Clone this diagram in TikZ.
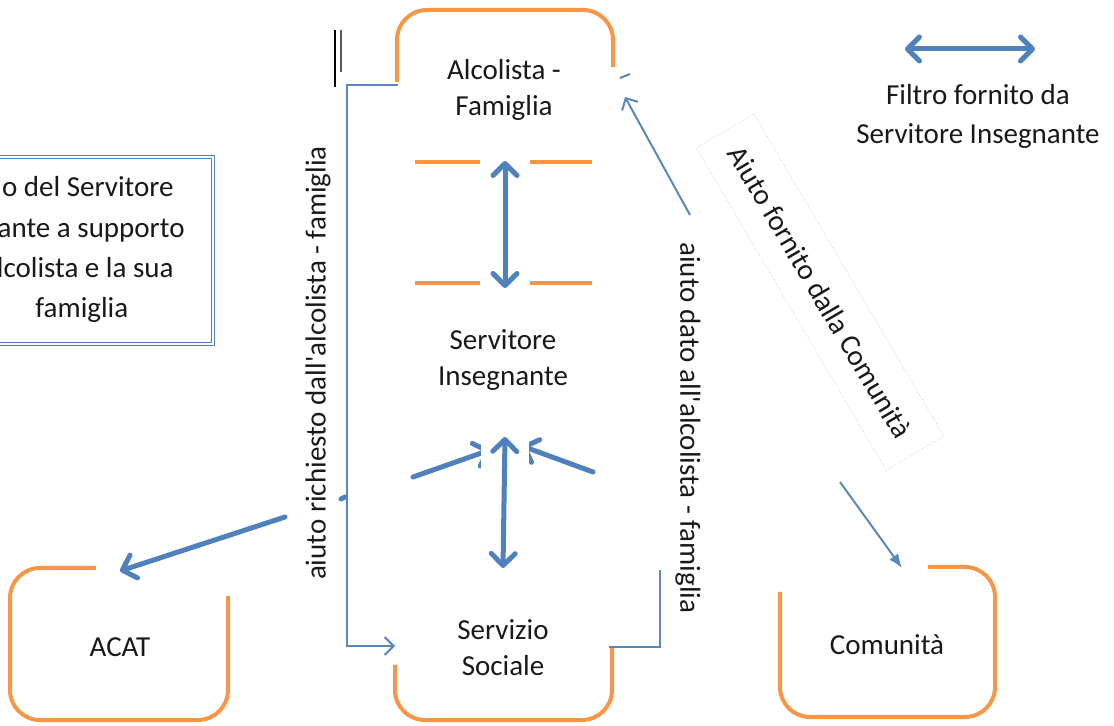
\documentclass[tikz,border=0pt]{standalone}
\usepackage{fontspec}
\setmainfont{Carlito}[Ligatures=TeXOff]
\usetikzlibrary{arrows.meta}
\definecolor{orng}{HTML}{F79646}
\definecolor{blu}{HTML}{4F81BD}
\definecolor{tblu}{HTML}{5A87C0}
\tikzset{
  BB/.tip={Straight Barb[length=6pt,width=12pt,round]},
  SB/.tip={Straight Barb[length=4.5pt,width=9pt]},
  FT/.tip={Latex[length=7pt,width=5.5pt]}
}
\begin{document}
\begin{tikzpicture}[x=0.5pt,y=-0.5pt,
  lbl/.style={font=\fontsize{14.5}{18}\selectfont, inner sep=0pt, align=center, text=black!90},
  obox/.style={draw=orng, line width=2pt, rounded corners=15pt},
  oseg/.style={draw=orng, line width=2pt},
  thk/.style={draw=blu, line width=2.5pt, line cap=round},
  thn/.style={draw=tblu, line width=1pt},
  frame/.style={draw=blu, line width=0.5pt}
]
\useasboundingbox (0,0) rectangle (1114,726);

% orange boxes (visible parts)
\draw[obox] (397,82) -- (397,10) -- (613,10) -- (613,67);
\draw[oseg] (415,162) -- (480,162) (530,162) -- (592,162);
\draw[oseg] (415,283) -- (480,283) (530,283) -- (592,283);
\draw[obox] (395,665) -- (395,720) -- (612,720) -- (612,647);
\draw[obox] (96,568) -- (10,568) -- (10,720) -- (228,720) -- (228,596);
\draw[obox] (780,592) -- (780,717) -- (995,717) -- (995,567) -- (928,567);

% black marks top left
\draw[black, line width=0.6pt] (335,30) -- (335,87);
\draw[black!65, line width=0.6pt] (341,30) -- (341,72);

% left text frame
\draw[frame] (-5,156) rectangle (214,346);
\draw[frame] (-5,159) rectangle (211,343);

% text nodes
\node[lbl] (alc) at (504,90) {Alcolista -\\Famiglia};
\node[lbl] (si) at (503,360) {Servitore\\Insegnante};
\node[lbl] (ss) at (503,648) {Servizio\\Sociale};
\node[lbl] (acat) at (120,647) {ACAT};
\node[lbl] (com) at (887,645) {Comunità};
\node[lbl, font=\fontsize{14.5}{19.5}\selectfont] (filt) at (978,116) {Filtro fornito da\\Servitore Insegnante};
\node[lbl, anchor=base east] (l1) at (174,197) {o del Servitore};
\node[lbl, anchor=base east] (l2) at (185,238) {ante a supporto};
\node[lbl, anchor=base east] (l3) at (174,278) {lcolista e la sua};
\node[lbl, anchor=base west] (l4) at (35,318) {famiglia};
\node[lbl, rotate=90] (vl) at (318,363) {aiuto richiesto dall'alcolista - famiglia};
\node[lbl, rotate=-90] (vr) at (688,428) {aiuto dato all'alcolista - famiglia};
\node[lbl, rotate=-59.5, draw=gray!40, densely dotted, line width=0.4pt, minimum width=187pt, minimum height=33.5pt] (afc) at (820,292) {Aiuto fornito dalla Comunità};

% connector coordinates
\coordinate (pa) at (398,85);
\coordinate (pb) at (347,85);
\coordinate (pc) at (347,646);
\coordinate (pd) at (395,646);
\coordinate (qa) at (609,647);
\coordinate (qb) at (660,647);
\coordinate (qc) at (660,570);
\coordinate (qd) at (690,215);
\coordinate (qe) at (625,97);
\coordinate (ca) at (840,482);
\coordinate (cb) at (902,568);
\coordinate (v1a) at (505,161);
\coordinate (v1b) at (505,288);
\coordinate (v2a) at (505,437);
\coordinate (v2b) at (503,568);
\coordinate (aa) at (120,571);
\coordinate (ab) at (285,517);
\coordinate (ac) at (341,499);
\coordinate (ad) at (345,497);
\coordinate (ae) at (413,477);
\coordinate (af) at (490,450);
\coordinate (ra) at (522,446);
\coordinate (rb) at (593,472);
\coordinate (ga) at (905,49);
\coordinate (gb) at (1035,49);
\coordinate (ta) at (620,78);
\coordinate (tb) at (630,74);

% thin connectors
\draw[thn, -SB] (pa) -- (pb) -- (pc) -- (pd);
\draw[thn] (qa) -- (qb) -- (qc);
\draw[thn, -SB] (qd) -- (qe);
\draw[thn] (ta) -- (tb);
\draw[thn, -FT] (ca) -- (cb);

% thick connectors
\draw[thk, BB-] (aa) -- (ab);
\draw[thk] (ac) -- (ad);
\draw[thk, -BB] (ae) -- (af);
\draw[thk, BB-] (ra) -- (rb);
\fill[white] (481,428) rectangle (529,474);
\draw[thk, BB-BB] (v1a) -- (v1b);
\draw[thk, BB-BB] (v2a) -- (v2b);
\draw[thk, BB-BB] (ga) -- (gb);
\end{tikzpicture}
\end{document}
